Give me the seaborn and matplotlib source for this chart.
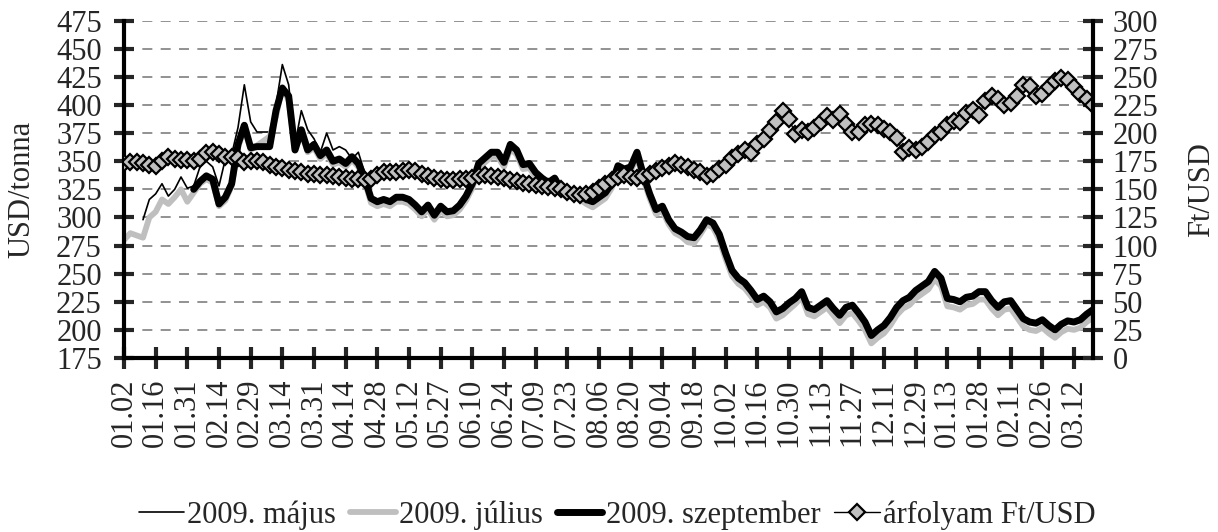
import numpy as np
import pandas as pd
import matplotlib.pyplot as plt
import seaborn as sns

sns.set_style('white')
plt.rcParams['font.family'] = ['Liberation Serif', 'DejaVu Serif']
plt.rcParams['font.size'] = 22

nan = np.nan

# every label marks 10 trading days; values are sampled every 2nd trading day
tick_labels = ['01.02', '01.16', '01.31', '02.14', '02.29', '03.14', '03.31', '04.14',
               '04.28', '05.12', '05.27', '06.10', '06.24', '07.09', '07.23', '08.06',
               '08.20', '09.04', '09.18', '10.02', '10.16', '10.30', '11.13', '11.27',
               '12.11', '12.29', '01.13', '01.28', '02.11', '02.26', '03.12']

majus = [nan, nan, nan, 298, 316, 321, 330, 319, 325, 336,
         326, 328, 345, 350, 345, 328, 352, 356, 380, 418,
         385, 376, 376, 376, 400, 436, 418, 365, 395, 378,
         370, 358, 375, 360, 363, 360, 352, 358, 340, 314,
         311, 313, 311, 315, 315, 313, 308, 302, 308, 299,
         307, 302, 303, 308, 316, 327, 345, 350, 355, 355,
         346, 362, 357, 344, 345, 337, 332, 328, 332, 322,
         319, 320, 317, 313, 310, 314, 318, 327, 343, 340,
         342, 355, 335, 318, 304, 307, 295, 287, 284, 279,
         278, 286, 295, 292, 281, 264, 249, 242, 238, 231,
         223, 226, 221, 211, 214, 219, 224, 230, 215, 213,
         217, 221, 214, 207, 214, 216, 209, 201, 189, 194,
         198, 205, 214, 220, 223, 229, 233, 237, 246, 240,
         222, 221, 219, 223, 224, 228, 228, 220, 214, 219,
         220, 212, 204, 201, 200, 203, 198, 194, 199, 202,
         201, 203, 208, 212]

julius = [280, 286, 284, 282, 300, 305, 316, 312, 318, 325,
          314, 322, 330, 334, 331, 310, 315, 328, 362, 379,
          360, 364, 368, 372, 390, 416, 404, 360, 375, 358,
          362, 352, 357, 347, 349, 345, 351, 345, 332, 313,
          310, 312, 310, 314, 314, 312, 307, 301, 307, 298,
          306, 301, 302, 307, 315, 326, 344, 349, 354, 354,
          345, 361, 356, 343, 344, 336, 331, 327, 331, 321,
          318, 319, 316, 312, 309, 313, 317, 326, 342, 339,
          341, 354, 334, 317, 303, 306, 294, 286, 283, 278,
          277, 285, 294, 291, 280, 263, 248, 241, 237, 230,
          222, 225, 220, 210, 213, 218, 223, 229, 214, 212,
          216, 220, 213, 206, 213, 215, 208, 200, 188, 193,
          197, 204, 213, 219, 222, 228, 232, 236, 245, 239,
          221, 220, 218, 222, 223, 227, 227, 219, 213, 218,
          219, 211, 203, 200, 199, 202, 197, 193, 198, 201,
          200, 202, 207, 211]

szeptember = [nan, nan, nan, nan, nan, nan, nan, nan, nan, nan,
              nan, 325, 332, 337, 334, 312, 318, 330, 365, 382,
              362, 363, 363, 363, 395, 415, 408, 360, 378, 360,
              365, 355, 360, 350, 352, 348, 354, 348, 335, 317,
              314, 316, 314, 318, 318, 316, 311, 305, 311, 302,
              310, 305, 306, 311, 319, 330, 348, 353, 358, 358,
              349, 365, 360, 347, 348, 340, 335, 331, 335, 325,
              322, 323, 320, 316, 314, 318, 322, 330, 346, 343,
              345, 358, 338, 321, 307, 310, 298, 290, 287, 283,
              282, 289, 298, 295, 285, 268, 253, 246, 242, 235,
              227, 230, 225, 216, 219, 224, 228, 234, 220, 218,
              222, 226, 219, 213, 220, 222, 215, 207, 195, 200,
              204, 211, 220, 226, 229, 235, 239, 243, 252, 246,
              228, 227, 225, 229, 230, 234, 234, 226, 220, 225,
              226, 218, 210, 207, 206, 209, 204, 200, 205, 208,
              207, 209, 214, 218]

arfolyam = [173, 174, 174, 173, 172, 171, 175, 179, 177, 176,
            176, 175, 177, 182, 183, 181, 179, 179, 178, 174,
            175, 175, 174, 172, 170, 169, 167, 166, 165, 164,
            164, 163, 163, 162, 161, 160, 159, 159, 158, 159,
            163, 165, 165, 165, 166, 167, 166, 164, 162, 160,
            159, 158, 158, 159, 159, 160, 162, 163, 162, 161,
            160, 158, 157, 156, 155, 154, 153, 152, 151, 150,
            148, 146, 145, 146, 148, 151, 155, 158, 161, 163,
            161, 160, 162, 164, 166, 169, 171, 173, 172, 170,
            167, 165, 162, 164, 168, 172, 178, 181, 185, 182,
            190, 195, 203, 210, 220, 213, 199, 203, 201, 205,
            210, 215, 212, 217, 208, 201, 201, 207, 208, 207,
            204, 201, 196, 183, 187, 185, 188, 192, 198, 201,
            207, 211, 210, 218, 221, 216, 229, 233, 230, 225,
            227, 233, 243, 242, 233, 235, 241, 246, 249, 247,
            241, 235, 230, 225]

df = pd.DataFrame({'nap': np.arange(len(arfolyam)), 'majus': majus, 'julius': julius,
                   'szeptember': szeptember, 'arfolyam': arfolyam})

fig = plt.figure(figsize=(12.18, 5.32), dpi=100)
ax = fig.add_axes([124 / 1218, 1 - 358 / 532, 969 / 1218, 337.3 / 532])
ax2 = ax.twinx()

sns.lineplot(data=df, x='nap', y='majus', ax=ax, color='black', linewidth=1.2, legend=False)
sns.lineplot(data=df, x='nap', y='julius', ax=ax, color='#bfbfbf', linewidth=4.2, legend=False)
sns.lineplot(data=df, x='nap', y='szeptember', ax=ax, color='black', linewidth=5, legend=False)
sns.lineplot(data=df, x='nap', y='arfolyam', ax=ax2, color='black', linewidth=1.0,
             marker='D', markersize=8, markerfacecolor='#c0c0c0', markeredgecolor='black',
             markeredgewidth=1.6, legend=False)

ax.set_xlim(0, len(arfolyam) - 1)
ax.set_ylim(175, 475)
ax.set_yticks(np.arange(175, 476, 25))
ax2.set_ylim(0, 300)
ax2.set_yticks(np.arange(0, 301, 25))
ax.set_xticks(np.arange(0, 5 * len(tick_labels), 5))
ax.set_xticklabels(tick_labels, rotation=90)

ax.grid(axis='y', color='#7f7f7f', linestyle=(0, (6, 5)), linewidth=1.2)
ax.grid(axis='x', visible=False)
ax2.grid(False)

for s in ['top', 'right']:
    ax.spines[s].set_visible(False)
for s in ['top', 'left', 'bottom']:
    ax2.spines[s].set_visible(False)
for s in ['left', 'bottom']:
    ax.spines[s].set_linewidth(3)
    ax.spines[s].set_color('black')
ax2.spines['right'].set_linewidth(3)
ax2.spines['right'].set_color('black')

ax.tick_params(axis='y', direction='inout', length=14, width=3, pad=9, left=True)
ax.tick_params(axis='x', direction='inout', length=16, width=3, pad=7, bottom=True)
ax2.tick_params(axis='y', direction='inout', length=14, width=3, pad=7, right=True)

ax.set_xlabel('')
ax.set_ylabel('USD/tonna', va='center')
ax.yaxis.set_label_coords(-0.105, 0.5)
ax2.set_ylabel('Ft/USD', va='center')
ax2.yaxis.set_label_coords(1.112, 0.5)

handles = [ax.lines[0], ax.lines[1], ax.lines[2], ax2.lines[0]]
labels = ['2009. május', '2009. július', '2009. szeptember', 'árfolyam Ft/USD']
fig.legend(handles, labels, loc='center', bbox_to_anchor=(617 / 1218, 1 - 515 / 532),
           ncol=4, frameon=False, handlelength=1.5, handletextpad=0.1, columnspacing=0.45)

fig.savefig('out.png', dpi=100)
